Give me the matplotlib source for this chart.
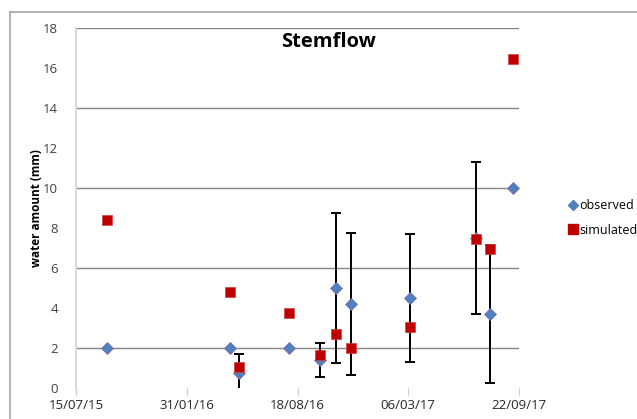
import matplotlib
matplotlib.use("Agg")
import matplotlib.pyplot as plt
from matplotlib.lines import Line2D
import numpy as np
import datetime as dt

dates = ['2015-09-09', '2016-04-18', '2016-05-04', '2016-08-03', '2016-09-28',
         '2016-10-27', '2016-11-23', '2017-03-09', '2017-07-06', '2017-08-01', '2017-09-11']
observed = [2.0, 2.0, 0.75, 2.0, 1.4, 5.0, 4.2, 4.5, 7.5, 3.7, 10.0]
simulated = [8.4, 4.8, 1.05, 3.75, 1.65, 2.7, 2.0, 3.05, 7.45, 6.95, 16.45]
obs_err = [0, 0, 0.95, 0, 0.85, 3.75, 3.55, 3.2, 3.8, 3.45, 0]
tick_labels = ['15/07/15', '31/01/16', '18/08/16', '06/03/17', '22/09/17']
grid_values = [2, 6, 10, 14, 18]

plt.rcParams['font.family'] = ['Open Sans', 'DejaVu Sans']

x = [dt.datetime.strptime(d, '%Y-%m-%d') for d in dates]
tick_dates = [dt.datetime.strptime(t, '%d/%m/%y') for t in tick_labels]

fig = plt.figure(figsize=(6.37, 4.19), dpi=100)
ax = fig.add_axes([76/637, 1-388/419, (519-76)/637, (388-28)/419])

# error bars (only where non-zero)
ex = [xi for xi, e in zip(x, obs_err) if e > 0]
ey = [o for o, e in zip(observed, obs_err) if e > 0]
ee = [e for e in obs_err if e > 0]
ax.errorbar(ex, ey, yerr=ee, fmt='none', ecolor='black', elinewidth=1.4,
            capsize=3.5, capthick=1.4, zorder=3)

ax.plot(x, observed, linestyle='none', marker='D', markersize=6.5,
        color='#4F81BD', markeredgecolor='#7F6FB0', markeredgewidth=0.6, zorder=4)
ax.plot(x, simulated, linestyle='none', marker='s', markersize=7.5,
        color='#C00000', markeredgecolor='#D04040', markeredgewidth=0.5, zorder=5)

ax.set_xlim(tick_dates[0], tick_dates[-1])
ax.set_ylim(0, 18)
ax.set_xticks(tick_dates)
ax.set_xticklabels(tick_labels)
ax.set_yticks(np.arange(0, 19, 2))
ax.set_yticks(grid_values, minor=True)
for g in grid_values:
    ax.axhline(g, color='#868686', linewidth=1.0, zorder=1)

for s in ['top', 'right', 'bottom']:
    ax.spines[s].set_visible(False)
ax.spines['left'].set_color('#D9D9D9')
ax.spines['left'].set_linewidth(1.5)
ax.tick_params(axis='y', which='major', length=0, labelsize=9.5, labelcolor='#404040', pad=13)
ax.tick_params(axis='y', which='minor', length=4, width=1.0, color='#868686')
ax.tick_params(axis='x', length=5, color='#C8C8C8', labelsize=9.5, labelcolor='#262626', pad=3)

ax.set_ylabel('water amount (mm)', fontsize=8.5, fontweight='bold')
ax.yaxis.set_label_coords(-0.074, 0.5)
ax.text(0.57, 0.96, 'Stemflow', transform=ax.transAxes, ha='center', va='center',
        fontsize=14.5, fontweight='bold')

handles = [Line2D([], [], linestyle='none', marker='D', markersize=5, color='#4F81BD'),
           Line2D([], [], linestyle='none', marker='s', markersize=7, color='#C00000')]
fig.legend(handles, ['observed', 'simulated'], loc='center left',
           bbox_to_anchor=(563/637, 1-218/419), frameon=False, fontsize=9,
           handlelength=0.6, handletextpad=0.2, labelspacing=0.9, borderpad=0)

# chart area border
fig.add_artist(Line2D([10/637, 1], [1-12/419, 1-12/419], color='#A6A6A6', linewidth=1.2,
                      transform=fig.transFigure))
fig.add_artist(Line2D([10/637, 10/637], [0, 1-12/419], color='#A6A6A6', linewidth=1.2,
                      transform=fig.transFigure))

fig.savefig('out.png', dpi=100)
